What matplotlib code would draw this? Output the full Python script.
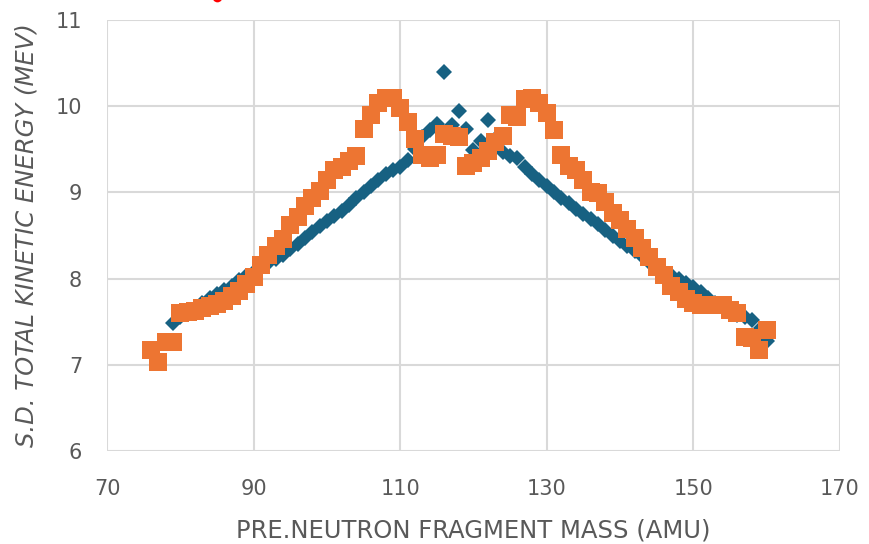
import numpy as np
import matplotlib
matplotlib.use("Agg")
import matplotlib.pyplot as plt

# blue diamonds: mass 79..160
blue_mass = list(range(79, 161))
blue_sd = [7.48, 7.55, 7.60, 7.66, 7.72, 7.78, 7.82, 7.87, 7.92, 7.98,
           8.03, 8.08, 8.13, 8.18, 8.23, 8.28, 8.34, 8.40, 8.47, 8.54,
           8.61, 8.67, 8.73, 8.79, 8.86, 8.93, 9.00, 9.07, 9.14, 9.22,
           9.26, 9.30, 9.38, 9.50, 9.64, 9.72, 9.80, 10.40, 9.78, 9.95,
           9.74, 9.49, 9.60, 9.84, 9.62, 9.47, 9.42, 9.40, 9.30, 9.22,
           9.15, 9.08, 9.00, 8.94, 8.88, 8.81, 8.75, 8.69, 8.63, 8.56,
           8.50, 8.44, 8.38, 8.32, 8.26, 8.19, 8.13, 8.08, 8.04, 8.00,
           7.95, 7.90, 7.84, 7.78, 7.72, 7.67, 7.62, 7.58, 7.55, 7.52,
           7.40, 7.28]

# orange squares: mass 76..160
orange_mass = list(range(76, 161))
orange_sd = [7.17, 7.03, 7.27, 7.27, 7.60, 7.61, 7.63, 7.66, 7.68, 7.70,
             7.74, 7.80, 7.86, 7.94, 8.02, 8.16, 8.28, 8.38, 8.46, 8.62,
             8.72, 8.84, 8.94, 9.02, 9.14, 9.26, 9.30, 9.37, 9.42, 9.74,
             9.90, 10.04, 10.10, 10.10, 9.98, 9.82, 9.62, 9.44, 9.40, 9.43,
             9.68, 9.66, 9.64, 9.31, 9.34, 9.40, 9.48, 9.58, 9.66, 9.90,
             9.88, 10.09, 10.10, 10.04, 9.92, 9.72, 9.43, 9.31, 9.26, 9.14,
             9.00, 8.99, 8.89, 8.76, 8.68, 8.58, 8.47, 8.36, 8.25, 8.14,
             8.04, 7.92, 7.84, 7.76, 7.72, 7.69, 7.69, 7.69, 7.69, 7.64,
             7.60, 7.32, 7.31, 7.17, 7.40]

# stray red point above the plot area
red_x = [85]
red_y = [11.27]

x_ticks = [70, 90, 110, 130, 150, 170]
y_ticks = [6, 7, 8, 9, 10, 11]

text_col = "#595959"
grid_col = "#d9d9d9"

fig = plt.figure(figsize=(8.7, 5.44), dpi=100)
ax = fig.add_axes([0.123, 0.171, 0.8425, 0.792])

ax.plot(blue_mass, blue_sd, "D", color="#176182", ms=8.5, mew=0, zorder=3)
ax.plot(orange_mass, orange_sd, "s", color="#ed7532", ms=13, mew=0, zorder=4)
ax.plot(red_x, red_y, "o", color="red", ms=7, mew=0, clip_on=False, zorder=5)

ax.set_xlim(70, 170)
ax.set_ylim(6, 11)
ax.set_xticks(x_ticks)
ax.set_yticks(y_ticks)
ax.grid(True, color=grid_col, lw=1.5)
ax.set_axisbelow(True)
for s in ax.spines.values():
    s.set_visible(False)
ax.tick_params(length=0, labelsize=15, colors=text_col)
ax.tick_params(axis="x", pad=20)
ax.tick_params(axis="y", pad=18)

ax.set_xlabel("PRE.NEUTRON FRAGMENT MASS (AMU)", fontsize=17.5, color=text_col, labelpad=14)
ax.set_ylabel("S.D. TOTAL KINETIC ENERGY (MEV)", fontsize=17.5, color=text_col,
              style="italic", labelpad=12)

plt.savefig("out.png", dpi=100)
